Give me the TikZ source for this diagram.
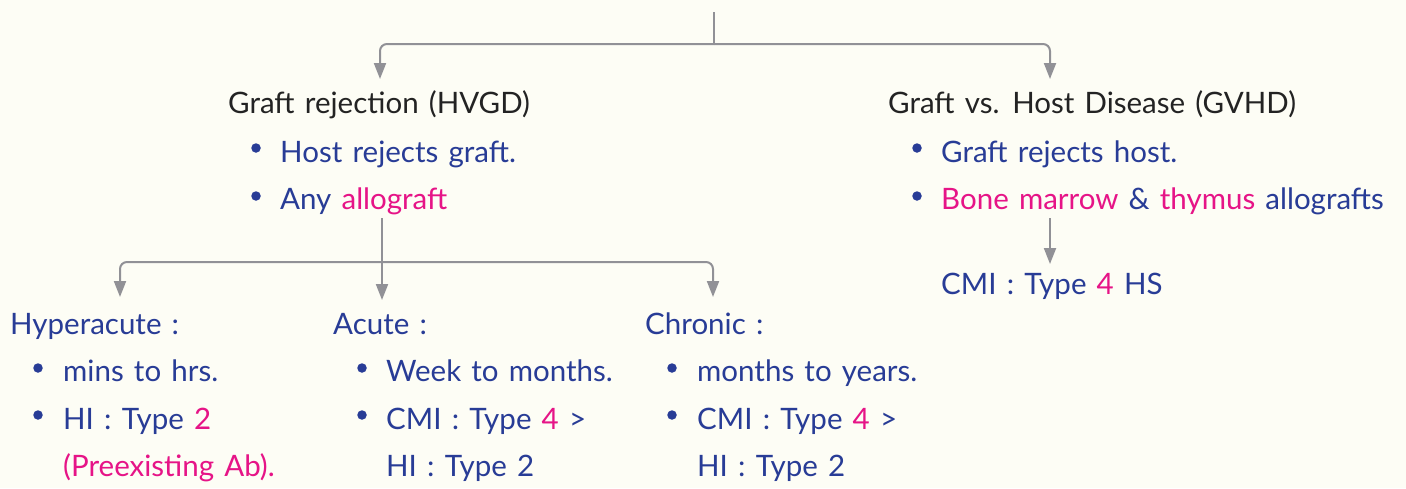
\documentclass[tikz,border=0pt]{standalone}
\usepackage{fontspec}
\setmainfont{Lato}[WordSpace=1.35]
\usetikzlibrary{arrows.meta}
\definecolor{bg}{RGB}{253,253,245}
\definecolor{ink}{RGB}{35,35,35}
\definecolor{blu}{RGB}{40,60,150}
\definecolor{pnk}{RGB}{230,20,135}
\definecolor{gry}{RGB}{145,145,150}
\newcommand{\pk}[1]{\textcolor{pnk}{#1}}
\begin{document}
\begin{tikzpicture}[x=1pt,y=-1pt,
  txt/.style={anchor=base west, inner sep=0pt, font=\fontsize{29.5}{34}\selectfont},
  ttl/.style={txt, text=ink},
  itm/.style={txt, text=blu},
  dot/.style={circle, fill=blu, inner sep=0pt, minimum size=9.5pt},
  link/.style={draw=gry, line width=2pt, rounded corners=7pt},
  arr/.style={link, -{Triangle[width=12pt,length=16pt]}},
]
\path[fill=bg] (0,0) rectangle (1406,488);
\useasboundingbox (0,0) rectangle (1406,488);

% coordinates for connectors
\coordinate (top) at (714,12);
\coordinate (j1) at (714,44);
\coordinate (grtip) at (380,79);
\coordinate (gvtip) at (1050,79);
\coordinate (s2) at (382,218);
\coordinate (j2) at (382,262);
\coordinate (hytip) at (120,297);
\coordinate (actip) at (382,300);
\coordinate (chtip) at (713,297);
\coordinate (s3) at (1050,218);
\coordinate (cmtip) at (1050,264);

% left branch
\node[ttl] (gr) at (228,113) {Graft rejection (HVGD)};
\node[dot] (gb1) at (256,148) {};
\node[itm] (gr1) at (280,162) {Host rejects graft.};
\node[dot] (gb2) at (256,196) {};
\node[itm] (gr2) at (280,209) {Any \pk{allograft}};

% right branch
\node[ttl] (gv) at (888,113) {Graft vs. Host Disease (GVHD)};
\node[dot] (vb1) at (917,148) {};
\node[itm] (gv1) at (941,162) {Graft rejects host.};
\node[dot] (vb2) at (917,196) {};
\node[itm] (gv2) at (941,209) {\pk{Bone marrow} \& \pk{thymus} allografts};
\node[itm] (cmi) at (941,294) {CMI : Type \pk{4} HS};

% hyperacute
\node[itm] (hy) at (10,334) {Hyperacute :};
\node[dot] (hb1) at (38,368) {};
\node[itm] (hy1) at (63,381) {mins to hrs.};
\node[dot] (hb2) at (38,415) {};
\node[itm] (hy2) at (63,429) {HI : Type \pk{2}};
\node[itm,text=pnk] (hy3) at (63,476) {(Preexisting Ab).};

% acute
\node[itm] (ac) at (333,334) {Acute :};
\node[dot] (ab1) at (362,368) {};
\node[itm] (ac1) at (386,381) {Week to months.};
\node[dot] (ab2) at (362,415) {};
\node[itm] (ac2) at (386,429) {CMI : Type \pk{4} >};
\node[itm] (ac3) at (386,476) {HI : Type 2};

% chronic
\node[itm] (ch) at (645,334) {Chronic :};
\node[dot] (cb1) at (672,368) {};
\node[itm] (ch1) at (697,381) {months to years.};
\node[dot] (cb2) at (672,415) {};
\node[itm] (ch2) at (697,429) {CMI : Type \pk{4} >};
\node[itm] (ch3) at (697,476) {HI : Type 2};

% connectors
\draw[link] (top) -- (j1);
\draw[arr] (j1) -| (grtip);
\draw[arr] (j1) -| (gvtip);
\draw[arr] (s2) -- (actip);
\draw[arr] (j2) -| (hytip);
\draw[arr] (j2) -| (chtip);
\draw[arr] (s3) -- (cmtip);
\end{tikzpicture}
\end{document}
